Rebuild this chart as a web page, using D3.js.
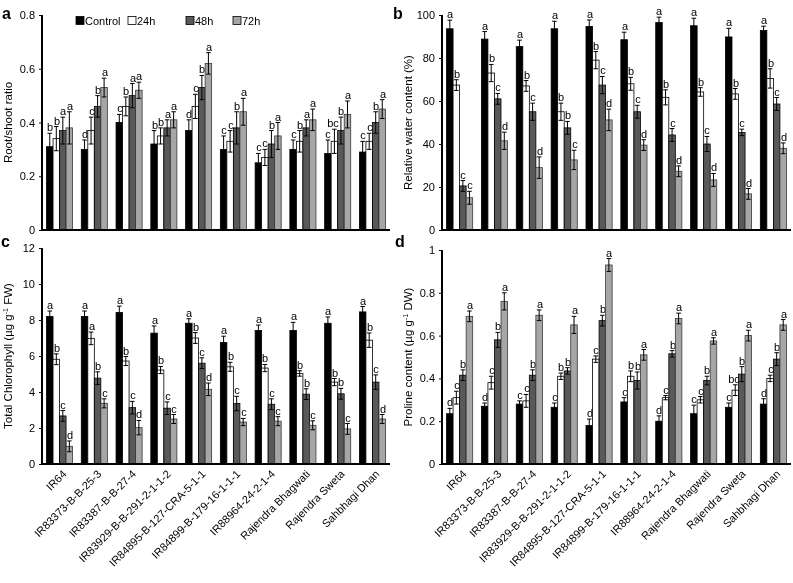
<!DOCTYPE html>
<html><head><meta charset="utf-8">
<script src="https://cdn.jsdelivr.net/npm/d3@7/dist/d3.min.js"></script>
<style>
html,body{margin:0;padding:0;background:#fff;}
svg{will-change:transform;}
svg text{font-family:"Liberation Sans",Arial,sans-serif;fill:#000;}
</style></head>
<body>
<svg id="chart" width="793" height="583"></svg>
<script>
// ---------- data ----------
const categories = ["IR64","IR83373-B-B-25-3","IR83387-B-B-27-4","IR83929-B-B-291-2-1-1-2",
  "IR84895-B-127-CRA-5-1-1","IR84899-B-179-16-1-1-1","IR88964-24-2-1-4",
  "Rajendra Bhagwati","Rajendra Sweta","Sahbhagi Dhan"];
const treatments = ["Control","24h","48h","72h"];
const treatmentColors = ["#000000","#ffffff","#595959","#a6a6a6"];

// rows = categories, columns = Control, 24h, 48h, 72h
const rootShootMean = [
  [0.31,0.34,0.37,0.38],[0.30,0.37,0.46,0.53],[0.40,0.46,0.50,0.52],[0.32,0.35,0.38,0.41],
  [0.37,0.46,0.53,0.62],[0.30,0.33,0.38,0.44],[0.25,0.27,0.32,0.35],[0.30,0.33,0.38,0.41],
  [0.285,0.33,0.37,0.43],[0.29,0.33,0.40,0.45]];
const rootShootErr = [
  [0.05,0.045,0.05,0.06],[0.035,0.05,0.04,0.035],[0.03,0.035,0.045,0.03],[0.05,0.03,0.03,0.03],
  [0.04,0.045,0.045,0.04],[0.05,0.04,0.06,0.05],[0.035,0.03,0.05,0.05],[0.035,0.04,0.03,0.04],
  [0.05,0.045,0.05,0.05],[0.04,0.03,0.04,0.035]];
const rootShootLetters = [
  ["b","b","a","a"],["d","c","b","a"],["c","b","a","a"],["b","b","a","a"],["d","c","b","a"],
  ["c","c","b","a"],["c","c","b","a"],["c","b","a","a"],["c","bc","b","a"],["c","c","b","a"]];

const waterMean = [
  [93.6,67.4,20.5,15.0],[88.8,73,61,41.5],[85.3,67,55,29],[93.6,55,47.5,32.6],[94.7,79,67.4,51.2],
  [88.5,68,55,39.5],[96.5,61.7,44.2,27.3],[95,64.2,40,23.3],[89.8,63.3,45.4,16.8],[92.8,70.5,58.6,38]];
const waterErr = [
  [4,2.5,2.5,3],[3.5,4,2.5,4],[3,2.5,4,5],[3.5,4,3,4.5],[3,4,4,5],
  [3.5,3,3,2.5],[2.5,3.5,3,2.5],[3.5,2,3.5,3],[4,2.5,1.5,2.5],[2,4.5,3,2.5]];
const waterLetters = [
  ["a","b","c","c"],["a","b","c","d"],["a","b","c","d"],["a","b","b","c"],["a","b","c","d"],
  ["a","b","c","d"],["a","b","c","d"],["a","b","c","d"],["a","b","c","d"],["a","b","c","d"]];

const chlMean = [
  [8.2,5.82,2.67,0.98],[8.2,6.98,4.77,3.37],[8.42,5.72,3.13,2.02],[7.27,5.22,3.1,2.5],
  [7.82,7.0,5.6,4.15],[6.75,5.4,3.36,2.33],[7.42,5.33,3.32,2.38],[7.42,5.03,3.88,2.15],
  [7.82,4.55,3.9,1.95],[8.45,6.88,4.55,2.5]];
const chlErr = [
  [0.3,0.3,0.3,0.3],[0.3,0.35,0.35,0.25],[0.35,0.25,0.35,0.4],[0.4,0.2,0.35,0.25],
  [0.25,0.3,0.3,0.35],[0.35,0.25,0.4,0.2],[0.3,0.2,0.3,0.25],[0.45,0.15,0.3,0.25],
  [0.35,0.2,0.3,0.3],[0.3,0.4,0.4,0.25]];
const chlLetters = [
  ["a","b","c","d"],["a","a","b","c"],["a","b","c","d"],["a","b","c","c"],["a","b","c","d"],
  ["a","b","c","c"],["a","b","c","c"],["a","b","b","c"],["a","b","b","c"],["a","b","c","d"]];

const prolineMean = [
  [0.235,0.31,0.415,0.69],[0.27,0.38,0.58,0.76],[0.28,0.295,0.415,0.695],[0.265,0.41,0.435,0.65],
  [0.18,0.49,0.67,0.93],[0.29,0.41,0.39,0.51],[0.20,0.31,0.515,0.68],[0.235,0.30,0.39,0.575],
  [0.265,0.345,0.42,0.60],[0.28,0.40,0.49,0.65]];
const prolineErr = [
  [0.025,0.03,0.025,0.025],[0.015,0.03,0.035,0.04],[0.015,0.03,0.025,0.025],[0.02,0.015,0.015,0.04],
  [0.03,0.015,0.025,0.03],[0.02,0.025,0.04,0.025],[0.025,0.01,0.015,0.025],[0.04,0.015,0.02,0.015],
  [0.02,0.025,0.035,0.025],[0.025,0.015,0.03,0.025]];
const prolineLetters = [
  ["d","c","b","a"],["d","c","b","a"],["c","c","b","a"],["c","b","b","a"],["d","c","b","a"],
  ["c","b","b","a"],["d","c","b","a"],["c","c","b","a"],["c","bc","b","a"],["d","c","b","a"]];

const ticksA = [0,0.2,0.4,0.6,0.8];
const ticksB = [0,20,40,60,80,100];
const ticksC = [0,2,4,6,8,10,12];
const ticksD = [0,0.2,0.4,0.6,0.8,1];

// ---------- drawing ----------
const svg = d3.select("#chart");
const FONT = 11;

const panels = [
  {tag:"a", mean:rootShootMean, err:rootShootErr, letters:rootShootLetters, ticks:ticksA, max:0.8,
   x0:42, x1:390, yTop:15, yBot:230, title:["Root/shoot ratio"], tx:12, lx:2, ly:19, xlabels:false},
  {tag:"b", mean:waterMean, err:waterErr, letters:waterLetters, ticks:ticksB, max:100,
   x0:442, x1:791, yTop:15, yBot:230, title:["Relative water content (%)"], tx:412, lx:393, ly:19, xlabels:false},
  {tag:"c", mean:chlMean, err:chlErr, letters:chlLetters, ticks:ticksC, max:12,
   x0:42, x1:390, yTop:248, yBot:464, title:["Total Chlorophyll (µg g","-1"," FW)"], tx:12, lx:1, ly:247, xlabels:true},
  {tag:"d", mean:prolineMean, err:prolineErr, letters:prolineLetters, ticks:ticksD, max:1,
   x0:442, x1:791, yTop:250, yBot:464, title:["Proline content (µg g","-1"," DW)"], tx:412, lx:395, ly:247, xlabels:true}
];

panels.forEach(p => {
  const g = svg.append("g");
  const x = d3.scaleBand().domain(categories).range([p.x0, p.x1]).paddingInner(0.25).paddingOuter(0.13);
  const xs = d3.scaleBand().domain(treatments).range([0, x.bandwidth()]);
  const y = d3.scaleLinear().domain([0, p.max]).range([p.yBot, p.yTop]);

  // y axis
  const yAxis = d3.axisLeft(y).tickValues(p.ticks).tickSize(3).tickPadding(4)
    .tickFormat(d => d3.format("~g")(d));
  const ya = g.append("g").attr("transform", `translate(${p.x0},0)`).call(yAxis);
  ya.select(".domain").remove();
  ya.selectAll("line").attr("stroke", "#000");
  ya.selectAll("text").attr("font-size", FONT).attr("fill", "#000")
    .attr("font-family", "Liberation Sans, Arial, sans-serif");

  // bars
  categories.forEach((cat, i) => {
    treatments.forEach((t, j) => {
      const v = p.mean[i][j], e = p.err[i][j];
      const bx = x(cat) + xs(t), bw = xs.bandwidth();
      g.append("rect").attr("x", bx).attr("y", y(v)).attr("width", bw).attr("height", y(0) - y(v))
        .attr("fill", treatmentColors[j]).attr("stroke", j === 3 ? "#3a3a3a" : "#000").attr("stroke-width", 0.8);
      const cx = bx + bw / 2, cap = 2.3;
      const yHi = y(v + e), yLo = y(v - e);
      g.append("line").attr("x1", cx).attr("x2", cx).attr("y1", yHi).attr("y2", yLo).attr("stroke", "#000").attr("stroke-width", 1);
      g.append("line").attr("x1", cx - cap).attr("x2", cx + cap).attr("y1", yHi).attr("y2", yHi).attr("stroke", "#000").attr("stroke-width", 1);
      g.append("line").attr("x1", cx - cap).attr("x2", cx + cap).attr("y1", yLo).attr("y2", yLo).attr("stroke", "#000").attr("stroke-width", 1);
      const lab = p.letters[i][j];
      g.append("text").attr("x", Math.round(cx + (lab.length > 1 ? -1 : 0.5))).attr("y", Math.round(yHi - 2))
        .attr("text-anchor", "middle").attr("font-size", FONT).attr("fill", "#000").text(lab);
    });
    if (p.xlabels) {
      const cx = x(cat) + x.bandwidth() / 2;
      g.append("text").attr("transform", `translate(${cx + 5},${p.yBot + 8}) rotate(-45)`)
        .attr("text-anchor", "end").attr("dy", "0.35em").attr("font-size", FONT).attr("fill", "#000").text(cat);
    }
  });

  // axis lines
  g.append("line").attr("x1", p.x0).attr("x2", p.x0).attr("y1", p.yTop).attr("y2", p.yBot + 1)
    .attr("stroke", "#000").attr("stroke-width", 2);
  g.append("line").attr("x1", p.x0 - 1).attr("x2", p.x1).attr("y1", p.yBot).attr("y2", p.yBot)
    .attr("stroke", "#000").attr("stroke-width", 2);

  // y title
  const tt = g.append("text").attr("transform", `translate(${p.tx},${(p.yTop + p.yBot) / 2}) rotate(-90)`)
    .attr("text-anchor", "middle").attr("font-size", 11.5).attr("fill", "#000");
  tt.append("tspan").text(p.title[0]);
  if (p.title.length > 1) {
    tt.append("tspan").attr("font-size", 7).attr("dy", -4).text(p.title[1]);
    tt.append("tspan").attr("dy", 4).text(p.title[2]);
  }

  // panel tag
  g.append("text").attr("x", p.lx).attr("y", p.ly).attr("font-size", 16).attr("font-weight", "bold")
    .attr("fill", "#000").text(p.tag);
});

// legend (panel a)
const legendX = [76, 128, 186, 233];
treatments.forEach((t, j) => {
  svg.append("rect").attr("x", legendX[j]).attr("y", 16.5).attr("width", 8).attr("height", 8)
    .attr("fill", treatmentColors[j]).attr("stroke", "#000").attr("stroke-width", 0.8);
  svg.append("text").attr("x", legendX[j] + 9).attr("y", 24.5).attr("font-size", 11).attr("fill", "#000").text(t);
});
</script>
</body></html>
